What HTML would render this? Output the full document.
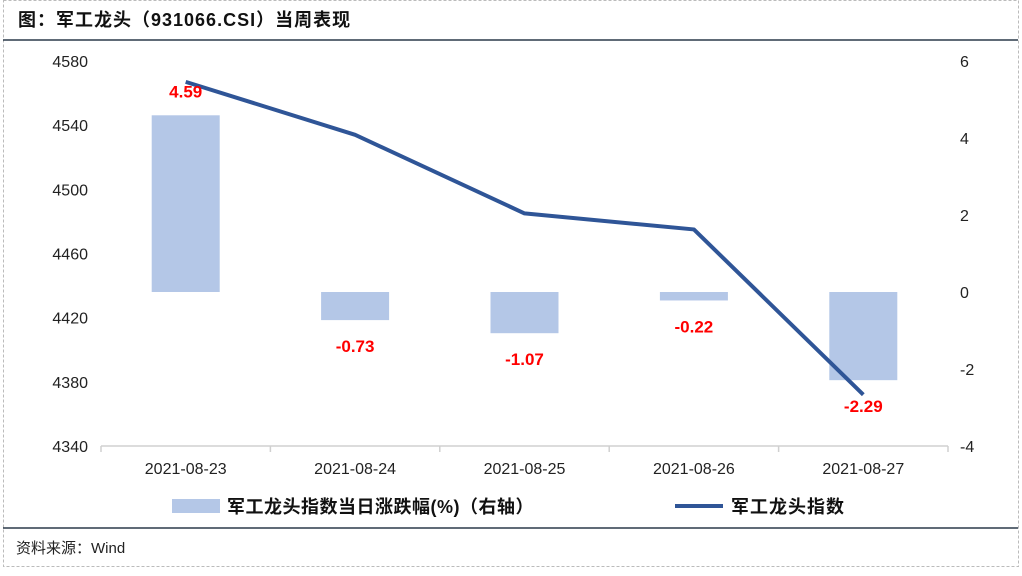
<!DOCTYPE html>
<html><head><meta charset="utf-8"><style>
body{margin:0;background:#fff;}
svg text{font-family:"Liberation Sans","Noto Sans CJK SC",sans-serif;}
</style></head><body>
<svg width="1022" height="571" xmlns="http://www.w3.org/2000/svg">
<rect x="3.5" y="0.5" width="1015" height="566" fill="#fff" stroke="#bbb" stroke-dasharray="3,2"/>
<text x="18" y="26" font-size="18" font-weight="bold" fill="#111" letter-spacing="1">图：军工龙头（931066.CSI）当周表现</text>
<line x1="3" y1="40" x2="1018" y2="40" stroke="#2b3a4a" stroke-width="1.5"/>
<g id="plot"></g>
<g>
<rect x="172" y="499" width="48" height="14" fill="#b4c7e7"/>
<text x="227" y="513" font-size="18" font-weight="bold" fill="#111" letter-spacing="0.5">军工龙头指数当日涨跌幅(%)（右轴）</text>
<line x1="675" y1="506" x2="723" y2="506" stroke="#2f5597" stroke-width="4"/>
<text x="731" y="513" font-size="18" font-weight="bold" fill="#111" letter-spacing="1">军工龙头指数</text>
</g>
<line x1="3" y1="528" x2="1018" y2="528" stroke="#2b3a4a" stroke-width="1.5"/>
<text x="16" y="553" font-size="15" fill="#222">资料来源：Wind</text>
</svg>
<script>
const categories=["2021-08-23","2021-08-24","2021-08-25","2021-08-26","2021-08-27"];
const changePct=[4.59,-0.73,-1.07,-0.22,-2.29];
const indexValues=[4567,4534,4485,4475,4372];
const leftTicks=[4340,4380,4420,4460,4500,4540,4580];
const rightTicks=[-4,-2,0,2,4,6];
const NS="http://www.w3.org/2000/svg";
const g=document.getElementById('plot');
const L=101,R=948,T=61,B=446;
const yL=v=>B-(v-4340)/(4580-4340)*(B-T);
const yR=v=>B-(v+4)/10*(B-T);
const band=(R-L)/categories.length;
const xC=i=>L+band*(i+0.5);
function mk(tag,attrs,txt){const e=document.createElementNS(NS,tag);for(const k in attrs)e.setAttribute(k,attrs[k]);if(txt!==undefined)e.textContent=txt;g.appendChild(e);return e;}
leftTicks.forEach(t=>{const e=mk('text',{x:88,y:yL(t)+6,'font-size':16,fill:'#222','text-anchor':'end'},t);

});
rightTicks.forEach(t=>{const e=mk('text',{x:960,y:yR(t)+6,'font-size':16,fill:'#222'},t);

});
const ax=mk('line',{x1:L,y1:B,x2:R,y2:B,stroke:'#d0d0d0','stroke-width':1.5});


for(let i=0;i<=categories.length;i++){const t=mk('line',{x1:L+band*i,y1:B,x2:L+band*i,y2:B+6,stroke:'#d0d0d0','stroke-width':1.5});

}
categories.forEach((c,i)=>{const e=mk('text',{x:xC(i),y:474,'font-size':16,fill:'#222','text-anchor':'middle'},c);

});
changePct.forEach((v,i)=>{const y0=yR(0),y1=yR(v);
const r=mk('rect',{x:xC(i)-34,y:Math.min(y0,y1),width:68,height:Math.abs(y1-y0),fill:'#b4c7e7'});

});
const pts=indexValues.map((v,i)=>xC(i)+','+yL(v)).join(' ');
const pl=mk('polyline',{points:pts,fill:'none',stroke:'#2f5597','stroke-width':4,'stroke-linejoin':'round'});


changePct.forEach((v,i)=>{const y=v>=0?yR(v)-18:yR(v)+32;
const e=mk('text',{x:xC(i),y:y,'font-size':17,'font-weight':'bold',fill:'#ff0000','text-anchor':'middle'},v.toFixed(2));

});
</script>
</body></html>
